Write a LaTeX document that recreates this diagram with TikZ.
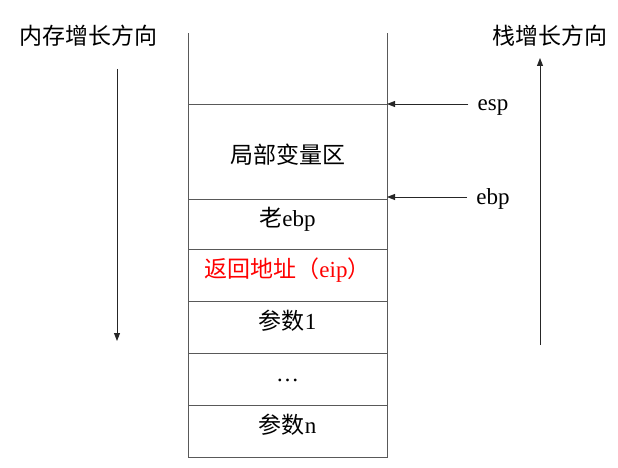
\documentclass[tikz,border=0pt]{standalone}
\usepackage{fontspec}
\setmainfont{Liberation Serif}
\newfontfamily\cjk{Noto Sans CJK SC}
\usetikzlibrary{positioning,arrows.meta}
\tikzset{
  cell/.style={draw=black!65, line width=0.9pt, minimum width=199pt, inner sep=0pt, outer sep=0pt,
    text height=10pt, text depth=6pt, font=\fontsize{23}{27}\selectfont},
  frame/.style={draw=black!65, line width=0.9pt},
  ptr/.style={draw=black!85, line width=0.9pt, -{Triangle[length=8pt,width=6pt]}},
  reg/.style={inner xsep=9pt, inner ysep=0pt, text height=15pt, text depth=1pt, font=\fontsize{23}{27}\selectfont},
  title/.style={font=\fontsize{23}{27}\selectfont\cjk}
}
\begin{document}
\begin{tikzpicture}[x=1pt,y=-1pt]
\useasboundingbox (0,0) rectangle (618,468);
\node (L) [cell, minimum height=95pt, anchor=north west, text height=24pt, text depth=1pt] at (188,104) {\cjk 局部变量区};
\node (O) [cell, minimum height=50pt, below=0pt of L] {{\cjk 老}ebp};
\node (R) [cell, minimum height=52pt, below=0pt of O, text=red] {{\cjk 返回地址（}eip{\cjk ）}};
\node (P1) [cell, minimum height=52pt, below=0pt of R] {{\cjk 参数}1};
\node (D) [cell, minimum height=52pt, below=0pt of P1] {\dots};
\node (Pn) [cell, minimum height=52pt, below=0pt of D] {{\cjk 参数}n};
\coordinate (TL) at (188,33);
\coordinate (TR) at (387,33);
\draw[frame] (L.north west) -- (TL);
\draw[frame] (L.north east) -- (TR);

\node (esp) [reg] at (493,104) {esp};
\node (ebp) [reg] at (493,197) {ebp};
\draw[ptr] (esp) -- (esp -| L.east);
\draw[ptr] (ebp) -- (ebp -| L.east);

\node (M) [title] at (88,36) {内存增长方向};
\coordinate (M1) at (117,69);
\coordinate (M2) at (117,341);
\draw[ptr] (M1) -- (M2);

\node (S) [title] at (550,36) {栈增长方向};
\coordinate (S1) at (540,345);
\coordinate (S2) at (540,58);
\draw[ptr] (S1) -- (S2);
\end{tikzpicture}
\end{document}
